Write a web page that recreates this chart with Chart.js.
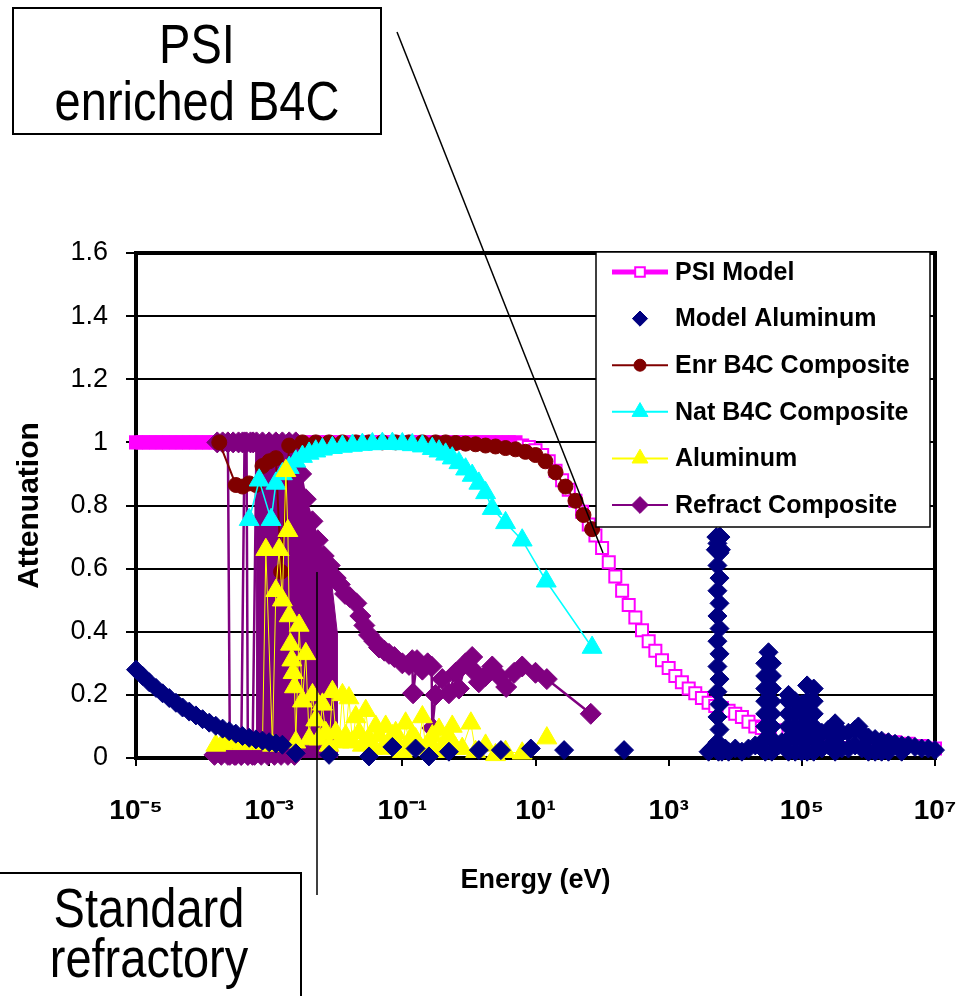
<!DOCTYPE html>
<html>
<head>
<meta charset="utf-8">
<title>Attenuation vs Energy</title>
<script src="https://cdn.jsdelivr.net/npm/chart.js@4.4.1/dist/chart.umd.min.js"></script>
<style>
  html, body { margin: 0; padding: 0; background: #fff; }
  #wrap { position: relative; width: 965px; height: 996px; overflow: hidden; font-family: 'Liberation Sans', Arial, sans-serif; }
  #chart { position: absolute; left: 0; top: 0; }
  .note { position: absolute; border: 2px solid #000; background: #fff; box-sizing: border-box; }
  .note div { position: absolute; left: 0; right: 0; text-align: center; font-size: 47px; line-height: 46px; color: #000; transform: scaleY(1.2); }
</style>
</head>
<body>
<div id="wrap">
  <canvas id="chart" width="965" height="996"></canvas>
  <div class="note" style="left:12px;top:7px;width:370px;height:128px;">
    <div style="top:12px">PSI</div>
    <div style="top:69px">enriched B4C</div>
  </div>
  <div class="note" style="left:-4px;top:872px;width:306px;height:150px;">
    <div style="top:11px">Standard</div>
    <div style="top:61px">refractory</div>
  </div>
</div>
<script>
// ---- data (energy in eV, attenuation) ----
var energyTicks = [1e-5, 1e-3, 1e-1, 1e1, 1e3, 1e5, 1e7];

// PSI Model
var psiE = [
  1e-5,1.26e-5,1.58e-5,2e-5,2.51e-5,3.16e-5,3.98e-5,5.01e-5,6.31e-5,7.94e-5,
  1e-4,1.26e-4,1.58e-4,2e-4,2.51e-4,3.16e-4,3.98e-4,5.01e-4,6.31e-4,7.94e-4,
  1e-3,1.26e-3,1.58e-3,2e-3,2.51e-3,3.16e-3,3.98e-3,5.01e-3,6.31e-3,7.94e-3,
  0.01,0.0126,0.0158,0.02,0.0251,0.0316,0.0398,0.0501,0.0631,0.0794,
  0.1,0.126,0.158,0.2,0.251,0.316,0.398,0.501,0.631,0.794,
  1,1.26,1.58,2,2.51,3.16,3.98,5.01,
  6.31,7.94,
  10,12.6,15.8,20,25.1,31.6,39.8,50.1,63.1,79.4,
  100,126,158,200,251,316,398,501,631,794,
  1000,1260,1580,2000,2510,3160,3980,5010,6310,7940,
  1e4,12600,15800,2e4,25100,31600,39800,50100,63100,
  1e5,158000,251000,398000,631000,
  1e6,1.58e6,2.51e6,3.98e6,6.31e6,
  1e7
];
var psiV = [
  1,1,1,1,1,1,1,1,1,1,
  1,1,1,1,1,1,1,1,1,1,
  1,1,1,1,1,1,1,1,1,1,
  1,1,1,1,1,1,1,1,1,1,
  1,1,1,1,1,1,1,1,1,1,
  1,1,1,1,1,1,1,1,
  0.99,0.985,
  0.975,0.96,0.94,0.91,0.88,0.85,0.815,0.78,0.74,0.705,
  0.665,0.62,0.575,0.53,0.485,0.445,0.405,0.37,0.34,0.31,
  0.285,0.26,0.24,0.22,0.205,0.19,0.175,0.165,0.158,0.15,
  0.14,0.13,0.115,0.1,0.095,0.09,0.088,0.085,0.083,
  0.08,0.078,0.075,0.07,0.065,
  0.06,0.055,0.05,0.045,0.038,
  0.03
];

// Model Aluminum
var alModelE = [
  1e-5,1.26e-5,1.58e-5,2e-5,2.51e-5,3.16e-5,3.98e-5,5.01e-5,6.31e-5,7.94e-5,
  1e-4,1.26e-4,1.58e-4,2e-4,2.51e-4,3.16e-4,3.98e-4,5.01e-4,6.31e-4,7.94e-4,
  1e-3,1.26e-3,1.58e-3,
  2.51e-3,7.94e-3,0.0316,0.0708,0.158,0.251,0.501,1.41,3.02,8.51,26.9,214,
  3980,4470,5600,
  5400,5800,5400,5800,5400,5800,5400,5800,5400,5800,5400,5800,5400,5800,5400,5800,5400,5800,
  5100,6100,5200,6000,
  6310,7080,7940,1e4,12600,15800,2e4,
  28200,28200,28200,28200,28200,28200,28200,28200,
  35500,35500,35500,35500,35500,35500,35500,35500,31600,
  44700,50100,
  63100,63100,63100,63100,63100,63100,
  79400,79400,79400,79400,79400,
  1e5,1e5,1e5,1e5,1e5,
  120000,120000,120000,120000,120000,120000,
  151000,151000,151000,151000,151000,151000,
  2e5,2e5,2.51e5,2.51e5,3.16e5,3.16e5,3.16e5,3.98e5,3.98e5,5.01e5,5.01e5,6.31e5,6.31e5,7.08e5,7.94e5,7.94e5,
  1e6,1e6,1.26e6,1.26e6,1.58e6,1.58e6,2e6,2e6,2.51e6,3.16e6,3.16e6,3.98e6,5.01e6,6.31e6,7.94e6,1e7
];
var alModelV = [
  0.28,0.26,0.24,0.222,0.205,0.19,0.175,0.16,0.147,0.135,
  0.123,0.112,0.102,0.093,0.085,0.077,0.07,0.064,0.059,0.055,
  0.05,0.046,0.042,
  0.015,0.01,0.005,0.035,0.03,0.005,0.02,0.025,0.025,0.03,0.025,0.025,
  0.02,0.03,0.02,
  0.05,0.09,0.13,0.17,0.21,0.25,0.29,0.33,0.37,0.41,0.45,0.49,0.53,0.57,0.61,0.65,0.68,0.70,
  0.66,0.66,0.70,0.70,
  0.02,0.03,0.02,0.03,0.02,0.03,0.04,
  0.02,0.06,0.1,0.14,0.18,0.22,0.26,0.3,
  0.02,0.06,0.1,0.14,0.18,0.22,0.26,0.3,0.335,
  0.04,0.05,
  0.02,0.06,0.1,0.14,0.18,0.2,
  0.02,0.06,0.1,0.14,0.18,
  0.02,0.06,0.1,0.14,0.17,
  0.02,0.06,0.1,0.14,0.18,0.23,
  0.02,0.06,0.1,0.14,0.18,0.22,
  0.08,0.03,0.09,0.04,0.11,0.06,0.02,0.08,0.03,0.08,0.03,0.09,0.04,0.1,0.08,0.03,
  0.065,0.02,0.06,0.02,0.055,0.02,0.05,0.02,0.045,0.04,0.02,0.04,0.035,0.03,0.03,0.025
];

// Enr B4C Composite
var enrE = [
  1.78e-4,3.16e-4,3.98e-4,5.01e-4,6.31e-4,7.94e-4,1e-3,1.26e-3,1.51e-3,2e-3,
  3.16e-3,5.01e-3,7.94e-3,0.0126,0.02,0.0316,0.0501,0.0794,0.126,0.2,
  0.316,0.447,0.631,0.891,1.26,1.78,2.51,3.55,5.01,7.08,
  10,14.1,20,28.2,39.8,52.5,70.8
];
var enrV = [
  1,0.865,0.86,0.87,0.865,0.925,0.94,0.95,0.59,0.99,
  1,1,1,1,1,1,1,1,1,1,
  1,1,0.998,0.996,0.994,0.99,0.987,0.982,0.978,0.97,
  0.96,0.94,0.905,0.86,0.815,0.77,0.725
];

// Nat B4C Composite
var natE = [
  5.01e-4,7.08e-4,1.07e-3,1.26e-3,1.58e-3,2e-3,2.51e-3,3.16e-3,3.98e-3,5.01e-3,
  6.31e-3,8.91e-3,0.0126,0.0178,0.0251,0.0355,0.0501,0.0708,0.1,0.141,
  0.2,0.282,0.355,0.447,0.562,0.708,0.891,1.12,1.41,1.78,
  2.24,3.55,6.31,14.5,70.8
];
var natV = [
  0.755,0.88,0.755,0.87,0.9,0.92,0.94,0.955,0.965,0.972,
  0.978,0.983,0.987,0.99,0.993,0.995,0.996,0.996,0.995,0.992,
  0.988,0.98,0.972,0.962,0.95,0.935,0.915,0.895,0.87,0.84,
  0.79,0.745,0.69,0.56,0.35
];

// Aluminum
var alE = [
  1.58e-4,2e-4,2.51e-4,3.16e-4,3.98e-4,5.01e-4,6.31e-4,7.94e-4,8.91e-4,1.12e-3,
  1.26e-3,1.41e-3,1.58e-3,1.78e-3,1.91e-3,2e-3,2.09e-3,2.19e-3,2.29e-3,2.4e-3,
  2.51e-3,2.82e-3,3.16e-3,3.55e-3,3.98e-3,4.47e-3,5.01e-3,5.62e-3,6.31e-3,7.08e-3,
  7.94e-3,8.91e-3,0.01,0.0112,0.0126,0.0141,0.0158,0.0178,0.02,0.0224,
  0.0251,0.0282,0.0316,0.0355,0.0398,0.0447,0.0501,0.0562,0.0631,0.0708,
  0.0794,0.0891,0.1,0.112,0.126,0.141,0.158,0.178,0.2,0.224,
  0.251,0.282,0.316,0.355,0.398,0.447,0.501,0.562,0.631,0.794,
  1.07,1.26,1.78,2.51,3.55,6.31,14.8
];
var alV = [
  0.04,0.045,0.05,0.05,0.045,0.05,0.05,0.045,0.66,0.04,
  0.53,0.66,0.5,0.91,0.72,0.45,0.36,0.31,0.27,0.225,
  0.05,0.42,0.18,0.33,0.06,0.2,0.12,0.06,0.17,0.08,
  0.04,0.21,0.08,0.05,0.2,0.07,0.19,0.05,0.13,0.08,
  0.04,0.15,0.06,0.03,0.1,0.07,0.03,0.1,0.05,0.07,
  0.08,0.04,0.02,0.11,0.05,0.07,0.06,0.04,0.13,0.03,
  0.05,0.07,0.02,0.09,0.035,0.05,0.067,0.1,0.03,0.03,
  0.11,0.02,0.04,0.01,0.02,0.015,0.063
];

// Refract Composite (null = break in the line)
var refE = [
  1.66e-4,2e-4,2.4e-4,2.57e-4,3.16e-4,3.8e-4,4.27e-4,4.57e-4,4.79e-4,5.62e-4,
  6.46e-4,7.94e-4,1e-3,1.26e-3,1.58e-3,2e-3,2.51e-3,3.02e-3,3.55e-3,4.47e-3,
  5.37e-3,6.61e-3,8.13e-3,0.01,0.0115,0.0138,0.0162,0.0204,0.0234,0.0269,
  0.0316,0.038,0.0447,0.0537,0.0631,0.0759,0.1,0.126,0.141,0.145,
  0.166,0.2,0.24,0.275,0.282,0.316,0.398,0.501,0.631,0.708,
  0.891,1.12,1.26,1.41,1.78,2.24,2.82,3.63,4.79,6.31,
  10,14.8,67.6,
  67.6,
  1.51e-4,1.91e-4,2.4e-4,3.02e-4,3.8e-4,4.79e-4,6.03e-4,7.59e-4,9.55e-4,1.2e-3,1.51e-3,1.91e-3,2.4e-3,
  2.4e-3,
  2.88e-4,3.47e-4,3.98e-4,
  3.98e-4,
  5.25e-4,5.75e-4
];
var refV = [
  1,1,1,0.01,0.01,0.01,1,1,0.01,0.01,
  1,1,1,1,1,1,1,0.9,0.82,0.75,
  0.69,0.64,0.61,0.57,0.55,0.52,0.51,0.49,0.45,0.42,
  0.39,0.37,0.35,0.34,0.33,0.32,0.3,0.295,0.31,0.205,
  0.31,0.28,0.3,0.29,0.095,0.2,0.25,0.205,0.27,0.22,
  0.3,0.32,0.27,0.24,0.26,0.29,0.26,0.225,0.27,0.29,
  0.27,0.25,0.14,
  null,
  0.01,0.01,0.01,0.01,0.01,0.01,0.01,0.01,0.01,0.01,0.01,0.01,0.01,
  null,
  1,1,1,
  null,
  1,1
];
// dense block of Refract Composite points near 1-10 meV
var refMassE = [6.46e-4,6.46e-4,2.51e-3,3.02e-3,3.55e-3,4.47e-3,5.37e-3,6.61e-3,8.13e-3,0.0105,0.0105];
var refMassV = [0,1,1,0.9,0.82,0.75,0.69,0.64,0.61,0.4,0];

// ---- chart ----
var FONT = "'Liberation Sans', Arial, sans-serif";
Chart.defaults.font.family = FONT;
Chart.defaults.color = '#000';

var sup = {'-':'\u207B','0':'\u2070','1':'\u00B9','2':'\u00B2','3':'\u00B3','4':'\u2074','5':'\u2075','6':'\u2076','7':'\u2077','8':'\u2078','9':'\u2079'};
function tickLabel(v) {
  var p = String(Math.round(Math.log10(v)));
  return '10' + p.split('').map(function(c) { return sup[c]; }).join('');
}

function pts(es, vs) {
  return es.map(function(e, i) { return {x: e, y: vs[i]}; });
}

var framePlugin = {
  id: 'frame',
  beforeDatasetsDraw: function(chart) {
    var c = chart.ctx, a = chart.chartArea;
    c.save();
    c.strokeStyle = '#000';
    c.lineWidth = 4;
    c.strokeRect(a.left, a.top, a.right - a.left, a.bottom - a.top);
    c.restore();
  }
};

var legendPlugin = {
  id: 'boxLegend',
  afterDraw: function(chart) {
    var c = chart.ctx;
    c.save();
    c.fillStyle = '#fff';
    c.fillRect(596, 252, 334, 275);
    c.strokeStyle = '#000';
    c.lineWidth = 1.5;
    c.strokeRect(596, 252, 334, 275);
    chart.data.datasets.filter(function(d) { return d.label; }).forEach(function(d, i) {
      var y = 272 + i * 46.6;
      if (d.showLine) {
        c.strokeStyle = d.borderColor;
        c.lineWidth = i === 0 ? 5 : 2;
        c.beginPath(); c.moveTo(612, y); c.lineTo(668, y); c.stroke();
      }
      c.fillStyle = i === 0 ? '#fff' : d.borderColor;
      c.strokeStyle = d.borderColor;
      c.lineWidth = d.pointBorderWidth;
      Chart.helpers.drawPoint(c, {pointStyle: d.pointStyle, rotation: 0, radius: d.pointRadius * 0.8, borderWidth: d.pointBorderWidth}, 640, y);
      c.fillStyle = '#000';
      c.font = 'bold 25px ' + FONT;
      c.textBaseline = 'middle';
      c.fillText(d.label, 675, y + 1);
    });
    // leader lines from the notes
    c.strokeStyle = '#000';
    c.lineWidth = 1.5;
    c.beginPath(); c.moveTo(397, 32); c.lineTo(603, 553); c.stroke();
    c.beginPath(); c.moveTo(317, 572); c.lineTo(317, 895); c.stroke();
    c.restore();
  }
};

new Chart(document.getElementById('chart').getContext('2d'), {
  type: 'scatter',
  data: {
    datasets: [
      {
        label: 'PSI Model', data: pts(psiE, psiV), showLine: true, order: 7, clip: false,
        borderColor: '#FF00FF', borderWidth: 4,
        pointStyle: 'rect', pointRadius: 8.5, pointBorderWidth: 2,
        pointBorderColor: '#FF00FF',
        // the flat part is so densely sampled that the open squares merge into a solid band
        pointBackgroundColor: function(c) { return c.raw && c.raw.y === 1 ? '#FF00FF' : '#ffffff'; }
      },
      {
        label: 'Model Aluminum', data: pts(alModelE, alModelV), showLine: false, order: 1, clip: false,
        borderColor: '#000080',
        pointStyle: 'rectRot', pointRadius: 9.5, pointBorderWidth: 1,
        pointBorderColor: '#000080', pointBackgroundColor: '#000080'
      },
      {
        label: 'Enr B4C Composite', data: pts(enrE, enrV), showLine: true, order: 4, clip: false,
        borderColor: '#800000', borderWidth: 2,
        pointStyle: 'circle', pointRadius: 7.5, pointBorderWidth: 1,
        pointBorderColor: '#800000', pointBackgroundColor: '#800000'
      },
      {
        label: 'Nat B4C Composite', data: pts(natE, natV), showLine: true, order: 3, clip: false,
        borderColor: '#00FFFF', borderWidth: 1.5,
        pointStyle: 'triangle', pointRadius: 11.5, pointBorderWidth: 1,
        pointBorderColor: '#00FFFF', pointBackgroundColor: '#00FFFF'
      },
      {
        label: 'Aluminum', data: pts(alE, alV), showLine: true, order: 2, clip: false,
        borderColor: '#FFFF00', borderWidth: 1,
        pointStyle: 'triangle', pointRadius: 11.5, pointBorderWidth: 1,
        pointBorderColor: '#FFFF00', pointBackgroundColor: '#FFFF00'
      },
      {
        label: 'Refract Composite', data: pts(refE, refV), showLine: true, order: 5, clip: false,
        borderColor: '#800080', borderWidth: 2.5,
        pointStyle: 'rectRot', pointRadius: 10.5, pointBorderWidth: 1,
        pointBorderColor: '#800080', pointBackgroundColor: '#800080'
      },
      {
        type: 'line', data: pts(refMassE, refMassV), order: 6, clip: false,
        fill: 'origin', backgroundColor: '#800080', borderColor: '#800080', borderWidth: 1,
        pointRadius: 0
      }
    ]
  },
  options: {
    responsive: false,
    animation: false,
    devicePixelRatio: 1,
    layout: { padding: { top: 253, right: 30, bottom: 88, left: 0 } },
    plugins: { legend: { display: false }, tooltip: { enabled: false } },
    scales: {
      x: {
        type: 'logarithmic', min: 1e-5, max: 1e7,
        afterBuildTicks: function(s) { s.ticks = energyTicks.map(function(v) { return {value: v}; }); },
        afterFit: function(s) { s.height = 150; s.paddingLeft = 0; s.paddingRight = 0; },
        ticks: { callback: tickLabel, font: { size: 28, weight: 'bold' }, color: '#000', padding: 28, maxRotation: 0, autoSkip: false },
        grid: { drawOnChartArea: false, drawTicks: true, tickLength: 8, color: '#000', lineWidth: 2 },
        border: { display: false },
        title: { display: true, text: 'Energy (eV)', font: { size: 27, weight: 'bold' }, color: '#000', padding: { top: 0, bottom: 11 } }
      },
      y: {
        min: 0, max: 1.6,
        afterFit: function(s) { s.width = 136; },
        ticks: {
          stepSize: 0.2, font: { size: 27 }, color: '#000', padding: 18,
          callback: function(v) { return String(Math.round(v * 10) / 10); }
        },
        grid: { color: '#000', lineWidth: 2, tickLength: 10 },
        border: { display: false },
        title: { display: true, text: 'Attenuation', font: { size: 30, weight: 'bold' }, color: '#000', padding: { top: 12, bottom: 0 } }
      }
    }
  },
  plugins: [framePlugin, legendPlugin]
});
</script>
</body>
</html>
